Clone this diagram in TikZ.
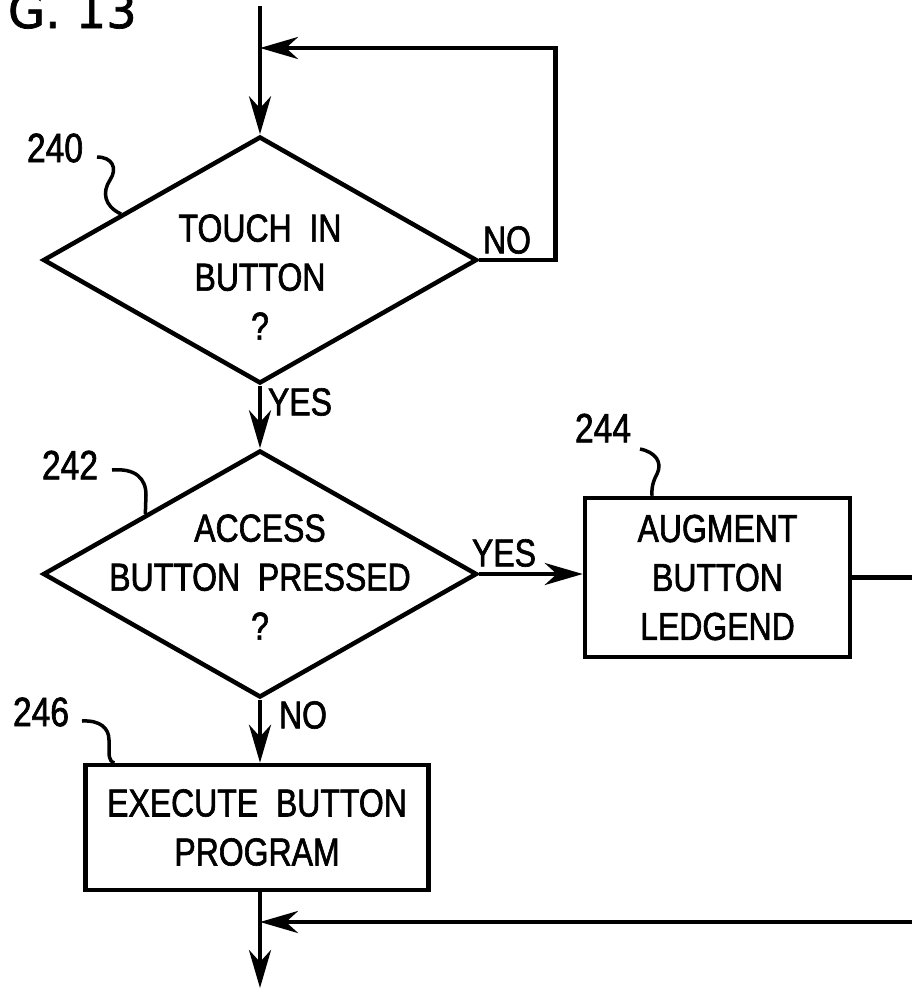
\documentclass[tikz,border=0pt]{standalone}
\usepackage{fontspec}
\setmainfont[FakeStretch=0.82, FakeBold=1.6, WordSpace=2]{Liberation Sans}
\newfontfamily\titlefamily[FakeBold=1.5]{DejaVu Sans}
\usetikzlibrary{shapes.geometric,arrows.meta,calc}
\newcommand\txtfont{\fontsize{39}{49}\selectfont}
\newcommand\numfont{\fontsize{41}{41}\selectfont}
\tikzset{
  ln/.style={line width=4.5pt},
  arr/.style={ln, -{Stealth[length=38pt,width=22pt,inset=12pt]}},
  lead/.style={line width=3.5pt},
  decision/.style={diamond, draw, ln, inner sep=0pt, minimum width=434pt, minimum height=247pt},
  procbox/.style={rectangle, draw, ln, inner sep=0pt, align=center, font=\txtfont},
  lbl/.style={font=\txtfont, inner sep=0pt},
  refnum/.style={font=\numfont, inner sep=0pt},
}
\begin{document}
\begin{tikzpicture}[x=1pt,y=-1pt]
\useasboundingbox (0,0) rectangle (912,989);

% title (cut off at the page edge, as in the reference)
\node[font=\titlefamily\fontsize{48}{48}\selectfont, anchor=base east, inner sep=0pt] (title) at (137,28) {G. 13};

% nodes
\coordinate (top) at (260,6);
\coordinate (j1) at (260,48);
\node[decision, label={[align=center, font=\txtfont, yshift=-17pt]center:TOUCH IN\\BUTTON\\?}] (d1) at (260,260) {};
\node[decision, label={[align=center, font=\txtfont, yshift=-3pt]center:ACCESS\\BUTTON PRESSED\\?}] (d2) at (260,574) {};
\node[procbox, minimum width=265pt, minimum height=159pt] (b244) at (717.5,577.5) {AUGMENT\\BUTTON\\LEDGEND};
\node[procbox, minimum width=343pt, minimum height=125pt] (b246) at (257,827.5) {EXECUTE BUTTON\\PROGRAM};
\coordinate (r1) at (920,0);
\coordinate (j2) at (260,922);
\coordinate (r2) at (920,922);
\coordinate (bot) at (260,988);

% connectors
\draw[arr] (top) -- (d1.north);
\draw[arr] (d1.east) -- ++(76,0) |- (j1);
\draw[arr] (d1.south) -- (d2.north);
\draw[arr] (d2.east) -- (d2.east -| b244.west);
\draw[ln] (b244.east) -- (b244.east -| r1);
\draw[arr] (d2.south) -- (d2.south |- b246.north);
\draw[arr] (b246.south -| d2.south) -- (bot);
\draw[arr] (r2) -- (j2);

% branch labels
\node[lbl] (no1) at (507,240) {NO};
\node[lbl] (yes1) at (300,402) {YES};
\node[lbl] (yes2) at (504,553) {YES};
\node[lbl] (no2) at (303,715) {NO};

% reference numerals and leaders
\node[refnum] (n240) at (55,148) {240};
\coordinate (s240a) at (97,157);
\coordinate (s240b) at ($(d1.west)!0.366!(d1.north)$);
\draw[lead] (s240a) .. controls (112,157) and (118,168) .. (110,180) .. controls (102,192) and (104,206) .. (s240b);

\node[refnum] (n242) at (70,465) {242};
\coordinate (s242a) at (112,470);
\coordinate (s242b) at ($(d2.west)!0.477!(d2.north)$);
\draw[lead] (s242a) .. controls (135,468) and (146,478) .. (146,495) -- (s242b);

\node[refnum] (n244) at (603,428) {244};
\coordinate (s244a) at (640,449);
\coordinate (s244b) at ($(b244.north west)!0.257!(b244.north east)$);
\draw[lead] (s244a) .. controls (655,452) and (663,462) .. (657,474) .. controls (651,485) and (652,492) .. (s244b);

\node[refnum] (n246) at (41,712) {246};
\coordinate (s246a) at (82,721);
\coordinate (s246b) at ($(b246.north west)!0.09!(b246.north east)$);
\draw[lead] (s246a) .. controls (100,720) and (109,728) .. (109,740) -- (109,752) .. controls (109,760) and (112,763) .. (s246b);
\end{tikzpicture}
\end{document}
